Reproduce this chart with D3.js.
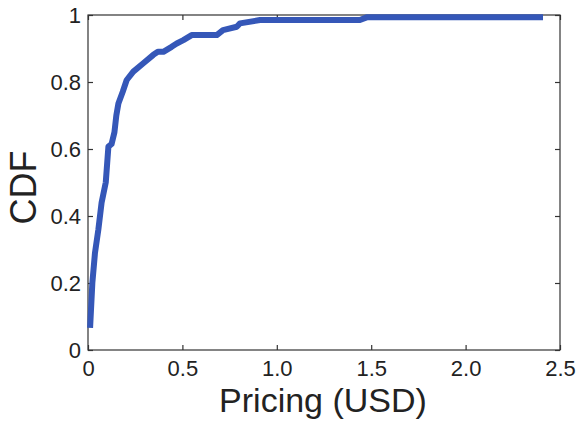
<!DOCTYPE html>
<html><head><meta charset="utf-8">
<script src="https://cdn.jsdelivr.net/npm/d3@7"></script>
<style>body{margin:0;background:#fff}svg{display:block}text{font-family:"Liberation Sans",Arial,Helvetica,sans-serif;fill:#222}</style>
</head><body><svg id="c" width="577" height="422"></svg>
<script>
const price = [0.011, 0.023, 0.037, 0.055, 0.072, 0.094, 0.108, 0.125, 0.140, 0.150, 0.161, 0.184, 0.205, 0.240, 0.293, 0.346, 0.370, 0.399, 0.443, 0.470, 0.505, 0.549, 0.682, 0.715, 0.788, 0.805, 0.911, 1.44, 1.476, 2.41];
const cdf   = [0.066, 0.2, 0.29, 0.36, 0.44, 0.50, 0.607, 0.615, 0.65, 0.70, 0.736, 0.771, 0.806, 0.831, 0.856, 0.881, 0.890, 0.890, 0.905, 0.915, 0.925, 0.940, 0.940, 0.955, 0.965, 0.975, 0.985, 0.985, 0.993, 0.993];
const xTicks = [0, 0.5, 1.0, 1.5, 2.0, 2.5];
const xTickLabels = ["0", "0.5", "1.0", "1.5", "2.0", "2.5"];
const yTicks = [0, 0.2, 0.4, 0.6, 0.8, 1];
const yTickLabels = ["0", "0.2", "0.4", "0.6", "0.8", "1"];

const L = 88, R = 560, T = 15, B = 350;
const svg = d3.select("#c");
const x = d3.scaleLinear().domain([0, 2.5]).range([L, R]);
const y = d3.scaleLinear().domain([0, 1]).range([B, T]);
const axisColor = "#333";

svg.append("rect").attr("x", L).attr("y", T).attr("width", R - L).attr("height", B - T)
  .attr("fill", "none").attr("stroke", axisColor).attr("stroke-width", 1.2);

function styleAxis(g) {
  g.select(".domain").remove();
  g.selectAll(".tick line").attr("stroke", axisColor).attr("stroke-width", 1.2);
  g.selectAll(".tick text").attr("font-size", 22).attr("fill", "#222")
    .attr("font-family", '"Liberation Sans",Arial,sans-serif');
}
svg.append("g").attr("transform", `translate(0,${B})`)
  .call(d3.axisBottom(x).tickValues(xTicks).tickFormat((d, i) => xTickLabels[i]).tickSizeInner(-5).tickPadding(10))
  .call(styleAxis);
svg.append("g").attr("transform", `translate(0,${T})`)
  .call(d3.axisTop(x).tickValues(xTicks).tickFormat("").tickSizeInner(-5))
  .call(styleAxis);
svg.append("g").attr("transform", `translate(${L},0)`)
  .call(d3.axisLeft(y).tickValues(yTicks).tickFormat((d, i) => yTickLabels[i]).tickSizeInner(-5).tickPadding(7))
  .call(styleAxis);
svg.append("g").attr("transform", `translate(${R},0)`)
  .call(d3.axisRight(y).tickValues(yTicks).tickFormat("").tickSizeInner(-5))
  .call(styleAxis);

const line = d3.line().x((d, i) => x(price[i])).y((d, i) => y(cdf[i]));
svg.append("path").datum(price).attr("d", line)
  .attr("fill", "none").attr("stroke", "#3557b8").attr("stroke-width", 6)
  .attr("stroke-linejoin", "round").attr("stroke-linecap", "butt");

svg.append("text").attr("x", (L + R) / 2 - 1).attr("y", 412).attr("text-anchor", "middle")
  .attr("font-size", 34).text("Pricing (USD)");
svg.append("text").attr("transform", `translate(36,${(T + B) / 2 + 5}) rotate(-90)`)
  .attr("text-anchor", "middle").attr("font-size", 36).text("CDF");
</script></body></html>
